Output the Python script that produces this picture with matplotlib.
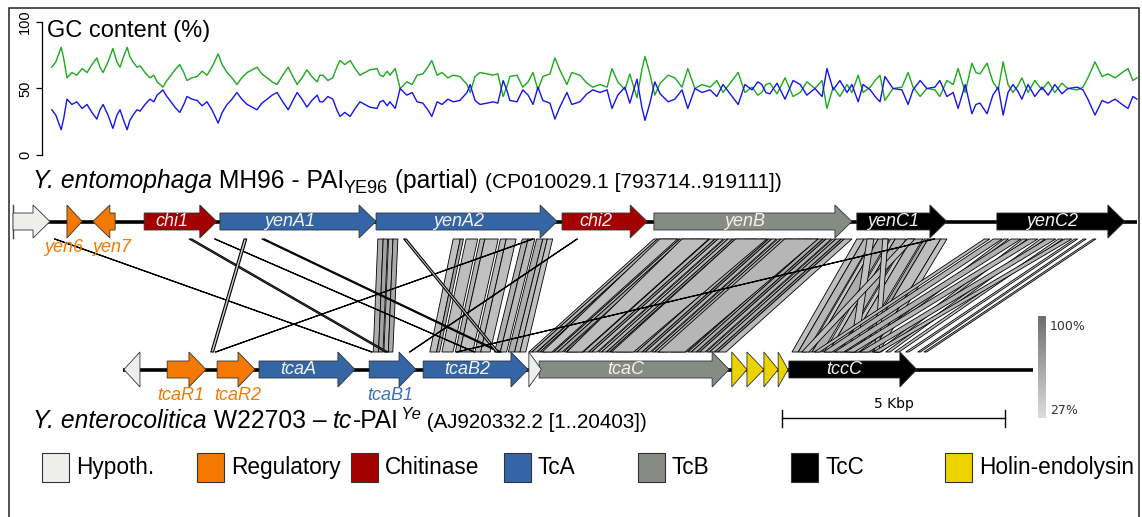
import matplotlib
matplotlib.use("Agg")
import matplotlib.pyplot as plt
from matplotlib.patches import Polygon, Rectangle
from matplotlib.collections import PolyCollection
from matplotlib.colors import LinearSegmentedColormap, Normalize
from matplotlib.cm import ScalarMappable

plt.rcParams['font.family'] = ['Liberation Sans', 'DejaVu Sans']

# ---------------- data ----------------
# GC / AT content (%) along the Y. entomophaga part, position in kbp
gc_pos = [0.87, 0.96, 1.08, 1.14, 1.21, 1.32, 1.43, 1.55, 1.66, 1.77, 1.88, 1.95, 2.02, 2.13, 2.24,
          2.33, 2.40, 2.49, 2.56, 2.62, 2.69, 2.78, 2.85, 2.96, 3.07, 3.16, 3.23, 3.30, 3.36, 3.45,
          3.52, 3.63, 3.74, 3.83, 3.90, 4.01, 4.13, 4.24, 4.35, 4.46, 4.60, 4.69, 4.80, 4.91, 5.02,
          5.13, 5.25, 5.36, 5.47, 5.58, 5.70, 5.81, 5.92, 6.03, 6.17, 6.26, 6.37, 6.48, 6.59, 6.70,
          6.82, 6.88, 6.95, 7.06, 7.17, 7.26, 7.33, 7.44, 7.56, 7.67, 7.78, 7.89, 8.00,
          8.16, 8.23, 8.30, 8.39, 8.45, 8.57, 8.68, 8.77, 8.83, 8.95, 9.06, 9.19, 9.30, 9.39, 9.51,
          9.62, 9.75, 9.87, 10.02, 10.18, 10.25, 10.36, 10.47, 10.63, 10.76, 10.87, 10.99, 11.08, 11.14,
          11.30, 11.43, 11.55, 11.66, 11.77, 11.88, 12.04, 12.15, 12.26, 12.42, 12.53, 12.71, 12.87,
          13.00, 13.16, 13.32, 13.43, 13.56, 13.72, 13.83, 13.99, 14.10, 14.17, 14.28, 14.39, 14.51,
          14.69, 14.84, 15.00, 15.13, 15.29, 15.45, 15.63, 15.78, 15.92, 16.08, 16.26, 16.41, 16.57,
          16.70, 16.79, 16.88, 16.97, 17.13, 17.31, 17.49, 17.65, 17.80, 17.98, 18.14, 18.25, 18.39,
          18.54, 18.70, 18.81, 18.95, 19.06, 19.22, 19.33, 19.44, 19.55, 19.73, 19.93, 20.07, 20.18,
          20.34, 20.49, 20.67, 20.78, 20.94, 21.08, 21.19, 21.35, 21.50, 21.59, 21.68, 21.84, 21.97,
          22.09, 22.20, 22.31, 22.42, 22.53, 22.62, 22.76, 22.91, 23.07, 23.21, 23.36, 23.52, 23.65,
          23.86, 23.99, 24.10, 24.26, 24.42, 24.55, 24.71, 24.87, 25.00, 25.11, 25.20]
gc_gc = [66, 70, 81, 72, 58, 62, 60, 65, 62, 68, 73, 66, 62, 70, 80, 70, 66, 75, 81, 74,
         70, 66, 67, 62, 58, 60, 55, 53, 51, 56, 59, 64, 68, 62, 56, 58, 59, 63, 60, 66,
         76, 68, 62, 58, 53, 58, 62, 64, 66, 61, 58, 55, 53, 59, 66, 60, 53, 58, 64, 59,
         55, 60, 60, 56, 58, 66, 71, 68, 71, 65, 60, 62, 64,
         65, 60, 59, 63, 60, 65, 50, 53, 55, 53, 60, 61, 66, 71, 60, 62, 58, 60, 59, 53,
         47, 59, 62, 61, 60, 61, 44, 52, 59, 60, 51, 55, 62, 49, 59, 61, 73, 64, 53, 62,
         60, 54, 51, 53, 51, 65, 55, 49, 61, 43, 64, 74, 61, 45, 54, 60, 58, 51, 65, 50,
         53, 51, 56, 47, 54, 62, 47, 51,
         45, 47, 53, 54, 46, 58, 44, 47, 55, 50, 56, 35, 51, 44, 53, 47, 60, 47, 51, 56,
         60, 41, 50, 51, 62, 51, 44, 50, 49, 44, 56, 53, 65, 47, 69, 62, 61, 69, 55, 49,
         70, 53, 47, 52, 58, 47, 56, 49, 55, 47, 54, 50, 49, 51, 58, 70, 59, 61, 58, 62,
         65, 56, 58]
gc_at = [34, 30, 19, 28, 42, 38, 40, 35, 38, 32, 27, 34, 38, 30, 20, 30, 34, 25, 19, 26,
         30, 34, 33, 38, 42, 40, 45, 47, 49, 44, 41, 36, 32, 38, 44, 42, 41, 37, 40, 34,
         24, 32, 38, 42, 47, 42, 38, 36, 34, 39, 42, 45, 47, 41, 34, 40, 47, 42, 36, 41,
         45, 40, 40, 44, 42, 34, 29, 32, 29, 35, 40, 38, 36,
         35, 40, 41, 37, 40, 35, 50, 47, 45, 47, 40, 39, 34, 29, 40, 38, 42, 40, 41, 47,
         53, 41, 38, 39, 40, 39, 56, 48, 41, 40, 49, 45, 38, 51, 41, 39, 27, 36, 47, 38,
         40, 46, 49, 47, 49, 35, 45, 51, 39, 57, 36, 26, 39, 55, 46, 40, 42, 49, 35, 50,
         47, 49, 44, 53, 46, 38, 53, 49,
         55, 53, 47, 46, 54, 42, 56, 53, 45, 50, 44, 65, 49, 56, 47, 53, 40, 53, 49, 44,
         40, 59, 50, 49, 38, 49, 56, 50, 51, 56, 44, 47, 35, 53, 31, 38, 39, 31, 45, 51,
         30, 47, 53, 48, 42, 53, 44, 51, 45, 53, 46, 50, 51, 49, 42, 30, 41, 39, 42, 38,
         35, 44, 42]

# genes of Y. entomophaga MH96 (kbp from the left end of the shown part)
top_name = ['', 'yen6', 'yen7', 'chi1', 'yenA1', 'yenA2', 'chi2', 'yenB', 'yenC1', 'yenC2']
top_start = [0.00, 1.21, 1.79, 2.94, 4.64, 8.14, 12.31, 14.37, 18.92, 22.06]
top_end = [0.83, 1.55, 2.29, 4.57, 8.14, 12.20, 14.22, 18.81, 20.94, 24.93]
top_strand = [1, 1, -1, 1, 1, 1, 1, 1, 1, 1]
top_class = ['Hypoth.', 'Regulatory', 'Regulatory', 'Chitinase', 'TcA', 'TcA', 'Chitinase',
             'TcB', 'TcC', 'TcC']
top_length = 25.20

# genes of Y. enterocolitica W22703 (kbp)
bot_name = ['', 'tcaR1', 'tcaR2', 'tcaA', 'tcaB1', 'tcaB2', 'tcaC', '', '', '', '', '', 'tccC']
bot_start = [0.02, 0.99, 2.11, 3.05, 5.52, 6.73, 9.33, 9.10, 13.65, 13.99, 14.37, 14.69, 14.93]
bot_end = [0.38, 1.86, 2.96, 5.20, 6.57, 9.08, 13.59, 9.38, 13.99, 14.37, 14.69, 14.91, 17.80]
bot_strand = [-1, 1, 1, 1, 1, 1, 1, 1, 1, 1, 1, 1, 1]
bot_class = ['Hypoth.', 'Regulatory', 'Regulatory', 'TcA', 'TcA', 'TcA', 'TcB', 'Hypoth.',
             'Holin-endolysin', 'Holin-endolysin', 'Holin-endolysin', 'Holin-endolysin', 'TcC']
bot_length = 20.403

# blast hits: (top start, top end, bottom start, bottom end, identity %)
hits_tcab1 = [(8.18, 8.30, 5.61, 5.73, 58), (8.30, 8.40, 5.73, 5.83, 64),
              (8.42, 8.52, 5.85, 5.95, 55), (8.52, 8.63, 5.95, 6.05, 61)]
hits_tcab2 = [(9.87, 10.03, 6.88, 7.03, 46), (10.03, 10.10, 7.03, 7.10, 60),
              (10.16, 10.42, 7.15, 7.40, 48), (10.47, 10.58, 7.45, 7.55, 54),
              (10.58, 10.88, 7.55, 7.84, 45), (10.93, 11.06, 7.89, 8.02, 51),
              (11.06, 11.28, 8.02, 8.23, 47), (11.42, 11.55, 8.33, 8.46, 56),
              (11.55, 11.70, 8.46, 8.60, 49), (11.74, 11.88, 8.64, 8.78, 58),
              (11.88, 11.98, 8.78, 8.90, 52), (11.98, 12.10, 8.90, 9.03, 46)]
hits_tcac = [(14.37, 14.45, 9.10, 9.17, 45), (14.45, 14.55, 9.17, 9.27, 52),
             (14.57, 14.63, 9.29, 9.35, 40), (14.63, 14.74, 9.35, 9.46, 48),
             (14.74, 14.82, 9.46, 9.54, 58), (14.84, 14.95, 9.56, 9.66, 44),
             (14.95, 15.03, 9.66, 9.74, 50), (15.03, 15.14, 9.74, 9.85, 62),
             (15.17, 15.24, 9.88, 9.94, 41), (15.24, 15.35, 9.94, 10.05, 49),
             (15.35, 15.43, 10.05, 10.13, 56), (15.43, 15.52, 10.13, 10.22, 46),
             (15.55, 15.62, 10.25, 10.32, 42), (15.62, 15.74, 10.32, 10.44, 53),
             (15.74, 15.81, 10.44, 10.51, 64), (15.81, 15.93, 10.51, 10.63, 47),
             (15.96, 16.03, 10.66, 10.73, 40), (16.03, 16.14, 10.73, 10.84, 51),
             (16.14, 16.21, 10.84, 10.91, 66), (16.21, 16.33, 10.91, 11.03, 48),
             (16.36, 16.42, 11.06, 11.12, 43), (16.42, 16.54, 11.12, 11.24, 55),
             (16.54, 16.61, 11.24, 11.31, 70), (16.61, 16.72, 11.31, 11.42, 49),
             (16.75, 16.82, 11.45, 11.52, 44), (16.82, 16.94, 11.52, 11.64, 57),
             (16.94, 17.01, 11.64, 11.71, 72), (17.01, 17.12, 11.71, 11.82, 50),
             (17.15, 17.22, 11.85, 11.92, 42), (17.22, 17.34, 11.92, 12.04, 54),
             (17.34, 17.41, 12.04, 12.11, 75), (17.41, 17.53, 12.11, 12.23, 51),
             (17.56, 17.63, 12.26, 12.33, 45), (17.63, 17.75, 12.33, 12.45, 58),
             (17.75, 17.82, 12.45, 12.52, 78), (17.82, 17.94, 12.52, 12.64, 53),
             (17.97, 18.04, 12.67, 12.74, 46), (18.04, 18.16, 12.74, 12.86, 60),
             (18.16, 18.23, 12.86, 12.93, 74), (18.23, 18.35, 12.93, 13.05, 52),
             (18.38, 18.45, 13.08, 13.15, 44), (18.45, 18.57, 13.15, 13.27, 57),
             (18.57, 18.64, 13.27, 13.34, 68), (18.64, 18.81, 13.34, 13.52, 50),
             (14.50, 14.90, 9.40, 9.62, 46), (15.00, 15.60, 9.95, 10.30, 48),
             (16.20, 16.90, 10.95, 11.45, 50), (17.30, 18.05, 12.00, 12.60, 52)]
hits_tccc = [(18.92, 19.08, 15.00, 15.14, 46), (19.08, 19.28, 15.14, 15.33, 52),
             (19.30, 19.40, 15.36, 15.45, 40), (19.40, 19.65, 15.45, 15.68, 58),
             (19.68, 19.78, 15.72, 15.82, 44), (19.78, 20.02, 15.82, 16.05, 54),
             (20.05, 20.15, 16.08, 16.18, 41), (20.15, 20.40, 16.18, 16.42, 50),
             (20.43, 20.52, 16.46, 16.55, 63), (20.52, 20.80, 16.55, 16.80, 48),
             (20.80, 20.94, 16.80, 16.95, 44), (19.15, 19.30, 16.30, 16.45, 45),
             (20.05, 20.22, 15.22, 15.38, 47), (19.50, 19.62, 16.85, 16.95, 43)]
hits_yenc2 = [(21.78, 21.90, 15.50, 15.62, 48), (21.98, 22.18, 15.70, 15.90, 54),
              (22.22, 22.32, 16.40, 16.50, 44), (22.38, 22.60, 15.95, 16.16, 56),
              (22.64, 22.74, 16.90, 17.00, 46), (22.78, 22.98, 16.20, 16.40, 52),
              (23.04, 23.14, 17.10, 17.20, 46), (23.18, 23.38, 16.52, 16.72, 54),
              (23.44, 23.54, 17.30, 17.40, 43), (23.58, 23.74, 16.82, 16.97, 50),
              (23.80, 23.87, 17.55, 17.62, 42), (24.00, 24.06, 17.82, 17.88, 40),
              (24.22, 24.28, 17.96, 18.02, 40)]
hits_short = [(0.93, 0.945, 5.575, 5.59, 35), (3.95, 4.01, 5.88, 5.94, 38),
              (4.52, 4.535, 7.87, 7.885, 35), (5.18, 5.24, 1.97, 2.03, 38),
              (5.58, 5.64, 8.42, 8.48, 38), (11.65, 11.665, 2.07, 2.085, 35),
              (12.64, 12.655, 6.42, 6.435, 35), (8.76, 8.82, 8.36, 8.42, 38),
              (20.65, 20.665, 7.48, 7.495, 35)]

class_names = ['Hypoth.', 'Regulatory', 'Chitinase', 'TcA', 'TcB', 'TcC', 'Holin-endolysin']
class_colors = ['#eeeeec', '#f57900', '#a40000', '#3465a4', '#888a85', '#000000', '#edd400']
scale_kbp = 5
ident_min, ident_max = 27, 100

# ---------------- layout (canvas pixels) ----------------
W, H = 1142, 517
PX_PER_KBP = 44.6
TOP_X0, BOT_X0 = 13, 123
Y_TOP, Y_BOT = 221.5, 369.5
LINK_TOP, LINK_BOT = 239, 352
BODY, HEAD = 8.5, 16.5
HEAD_KBP = 17 / PX_PER_KBP
TOP_SHIFT = (TOP_X0 - BOT_X0) / PX_PER_KBP
color_of = dict(zip(class_names, class_colors))


def fx(px):
    return px / W


def fy(py):
    return 1 - py / H


fig = plt.figure(figsize=(W / 100, H / 100), dpi=100)
renderer = fig.canvas.get_renderer()
ax = fig.add_axes([0, 0, 1, 1])
ax.set_xlim(-BOT_X0 / PX_PER_KBP, (W - BOT_X0) / PX_PER_KBP)
ax.set_ylim(H, 0)
ax.axis('off')


def rich_text(x, y, pieces):
    # pieces: (text, fontsize, style, baseline shift in px)
    for s, size, style, dy in pieces:
        t = fig.text(fx(x), fy(y + dy), s, fontsize=size, style=style, va='baseline')
        x = t.get_window_extent(renderer).x1


# outer frame
fig.add_artist(Rectangle((fx(9), -0.1), fx(1139) - fx(9), fy(8) + 0.1, transform=fig.transFigure,
                         fill=False, edgecolor='#222222', lw=1.1))

# ---- GC content panel ----
ax_gc = fig.add_axes([fx(42), fy(155), fx(1140) - fx(42), (155 - 22) / H])
ax_gc.set_xlim((42 - TOP_X0) / PX_PER_KBP, (1140 - TOP_X0) / PX_PER_KBP)
ax_gc.set_ylim(0, 100)
ax_gc.patch.set_visible(False)
for s in ['top', 'right', 'bottom']:
    ax_gc.spines[s].set_visible(False)
ax_gc.spines['left'].set_linewidth(0.9)
ax_gc.set_xticks([])
ax_gc.set_yticks([0, 50, 100])
ax_gc.set_yticklabels(['0', '50', '100'], rotation=90, va='center', fontsize=10.5)
ax_gc.tick_params(axis='y', length=4, width=0.9, pad=3)
ax_gc.plot(gc_pos, gc_gc, color='#1aaa1a', lw=1.0)
ax_gc.plot(gc_pos, gc_at, color='#1414f0', lw=1.0)
fig.text(fx(47), fy(37), 'GC content (%)', fontsize=17, va='baseline')

# ---- comparison links ----
cmap = LinearSegmentedColormap.from_list('ident', ['#dcdcdc', '#6e6e6e'])
norm = Normalize(ident_min, ident_max)
for group, lw in [(hits_tcab1, 0.6), (hits_tcab2, 0.6), (hits_tcac, 0.6), (hits_tccc, 0.6),
                  (hits_yenc2, 0.6), (hits_short, 0.8)]:
    verts = [[(t1 + TOP_SHIFT, LINK_TOP), (t2 + TOP_SHIFT, LINK_TOP), (b2, LINK_BOT), (b1, LINK_BOT)]
             for t1, t2, b1, b2, _ in group]
    cols = [cmap(norm(h[4])) for h in group]
    ax.add_collection(PolyCollection(verts, facecolors=cols, edgecolors='black', linewidths=lw,
                                     zorder=1))


# ---- gene tracks ----
def arrow(s, e, strand, yc, head_h):
    head = min(HEAD_KBP, e - s)
    if strand < 0:
        s, e, head = e, s, -head
    hb = e - head
    if abs(head) >= abs(e - s) - 1e-9:
        return [(s, yc - head_h), (e, yc), (s, yc + head_h)]
    return [(s, yc - BODY), (hb, yc - BODY), (hb, yc - head_h), (e, yc),
            (hb, yc + head_h), (hb, yc + BODY), (s, yc + BODY)]


below = {'yen6': -11, 'yen7': 8, 'tcaR1': -6, 'tcaR2': 2, 'tcaB1': -2}
label_color = {'Regulatory': '#f57900', 'TcA': '#3f70b4'}

ax.plot([TOP_SHIFT, TOP_SHIFT + top_length], [Y_TOP, Y_TOP], color='black', lw=2.6,
        solid_capstyle='butt', zorder=2)
ax.plot([TOP_SHIFT, TOP_SHIFT], [Y_TOP - HEAD, Y_TOP + HEAD], color='#444444', lw=1.0, zorder=2)
ax.plot([0, bot_length], [Y_BOT, Y_BOT], color='black', lw=2.6, solid_capstyle='butt', zorder=2)

tracks = [(top_name, top_start, top_end, top_strand, top_class, TOP_SHIFT, Y_TOP, HEAD, 248),
          (bot_name, bot_start, bot_end, bot_strand, bot_class, 0, Y_BOT, 17.5, 395)]
for names, starts, ends, strands, classes, shift, yc, head_h, ylab in tracks:
    for n, s, e, st, c in zip(names, starts, ends, strands, classes):
        ax.add_patch(Polygon(arrow(s + shift, e + shift, st, yc, head_h), closed=True,
                             facecolor=color_of[c], edgecolor='#2e3436', lw=0.6, zorder=3))
        if not n:
            continue
        if n in below:
            xm = (s + e) / 2 + shift + below[n] / PX_PER_KBP
            ax.text(xm, ylab, n, style='italic', fontsize=13, color=label_color[c],
                    ha='center', va='center', zorder=4)
        else:
            xm = (s + e - HEAD_KBP) / 2 + shift
            ax.text(xm, yc - 0.5, n, style='italic', fontsize=13, color='#f2f2f2',
                    ha='center', va='center', zorder=4)

# ---- titles ----
rich_text(33, 188, [('Y. entomophaga', 17.7, 'italic', 0), (' MH96 - PAI', 17.7, 'normal', 0),
                    ('YE96', 13, 'normal', 5), (' (partial) ', 17.7, 'normal', 0),
                    ('(CP010029.1 [793714..919111])', 15.1, 'normal', 0)])
rich_text(33, 428, [('Y. enterocolitica', 17.7, 'italic', 0), (' W22703 \u2013 ', 17.7, 'normal', 0),
                    ('tc', 17.7, 'italic', 0), ('-PAI', 17.7, 'normal', 0),
                    ('\u2009Ye', 12, 'italic', -9), (' (AJ920332.2 [1..20403])', 14.8, 'normal', 0)])

# ---- scale bar ----
sb0 = (782 - BOT_X0) / PX_PER_KBP
ax.plot([sb0, sb0 + scale_kbp], [418, 418], color='black', lw=1.0)
ax.plot([sb0, sb0], [410, 427], color='black', lw=1.0)
ax.plot([sb0 + scale_kbp, sb0 + scale_kbp], [410, 427], color='black', lw=1.0)
ax.text(sb0 + scale_kbp / 2, 404, '%d Kbp' % scale_kbp, family='DejaVu Sans', fontsize=10,
        ha='center', va='center')

# ---- identity colour key ----
cax = fig.add_axes([fx(1038), fy(418), fx(1046) - fx(1038), (418 - 316) / H])
cb = fig.colorbar(ScalarMappable(norm=norm, cmap=cmap), cax=cax)
cb.outline.set_visible(False)
cb.set_ticks([])
fig.text(fx(1050), fy(326), '%d%%' % ident_max, family='DejaVu Sans', fontsize=9,
         color='#333333', va='center')
fig.text(fx(1050), fy(410), '%d%%' % ident_min, family='DejaVu Sans', fontsize=9,
         color='#333333', va='center')

# ---- legend ----
legend_x = [42, 197, 351, 504, 638, 791, 945]
for lx, name, col in zip(legend_x, class_names, class_colors):
    fig.add_artist(Rectangle((fx(lx), fy(482)), 27 / W, 29 / H, transform=fig.transFigure,
                             facecolor=col, edgecolor='#333333', lw=0.8))
    fig.text(fx(lx + 34), fy(467.5), name, fontsize=16.3, va='center')

fig.savefig('out.png', dpi=100)
